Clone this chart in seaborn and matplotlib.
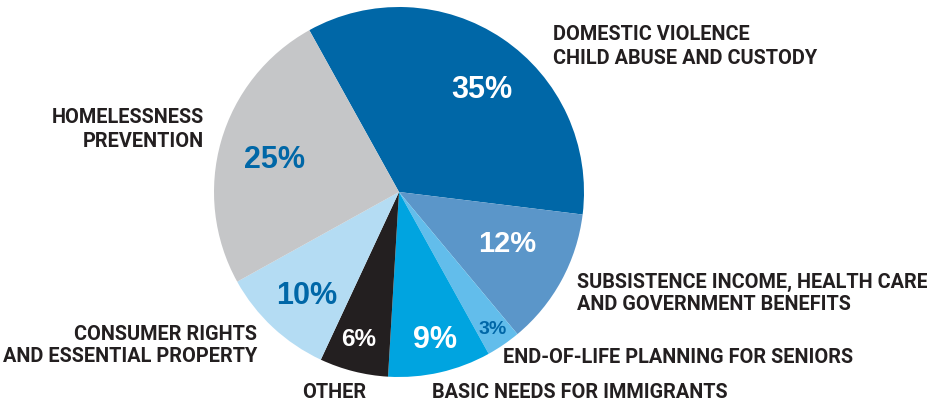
import matplotlib
matplotlib.use("Agg")
import matplotlib.pyplot as plt
import seaborn as sns
import numpy as np
from matplotlib import font_manager

# ---------------- data ----------------
categories = [
    "DOMESTIC VIOLENCE\nCHILD ABUSE AND CUSTODY",
    "SUBSISTENCE INCOME, HEALTH CARE\nAND GOVERNMENT BENEFITS",
    "END-OF-LIFE PLANNING FOR SENIORS",
    "BASIC NEEDS FOR IMMIGRANTS",
    "OTHER",
    "CONSUMER RIGHTS\nAND ESSENTIAL PROPERTY",
    "HOMELESSNESS\nPREVENTION",
]
shares = [35, 12, 3, 9, 6, 10, 25]
pct_labels = ["35%", "12%", "3%", "9%", "6%", "10%", "25%"]

# ---------------- style / layout ----------------
sns.set_theme(style="white")

label_font = ["Roboto", "DejaVu Sans"]
label_size = 14.3
pct_font = ["Liberation Sans", "DejaVu Sans"]

colors = ["#0067A7", "#5B96C9", "#62BDEB", "#00A4E0", "#231F20", "#B4DCF3", "#C5C6C8"]
pct_colors = ["white", "white", "#0067A7", "white", "white", "#0067A7", "#0067A7"]
pct_sizes = [22, 21, 14, 22, 17.5, 22, 22]
# label centres in pixel coords (x, y from top)
pct_pos = [(482, 88), (507, 242), (493, 327), (435, 337), (359, 338), (307, 293), (275, 158)]
pct_cap = [21, 20, 15, 21, 16.5, 21, 21]

# outer labels: (x, baseline y from top of first line, ha)
outer_pos = [
    (553, 40, "left"),
    (577, 288, "left"),
    (503, 363, "left"),
    (432, 398, "left"),
    (334, 398, "center"),
    (257, 340, "right"),
    (204, 123, "right"),
]
line_gap = [24, 22, 0, 0, 0, 22, 24]
text_color = "#231F20"

W, H = 928, 401
fig = plt.figure(figsize=(W / 100, H / 100), dpi=100)
ax = fig.add_axes([0, 0, 1, 1])

cx, cy, R = 399, H - 192, 185
wedges, _ = ax.pie(
    shares,
    colors=colors,
    startangle=119,
    counterclock=False,
    center=(cx, cy),
    radius=R,
    wedgeprops=dict(linewidth=0),
)
ax.set_xlim(0, W)
ax.set_ylim(0, H)
ax.set_aspect("equal")
ax.axis("off")

for lab, col, size, (x, y), cap in zip(pct_labels, pct_colors, pct_sizes, pct_pos, pct_cap):
    ax.text(x, H - y - cap / 2, lab, ha="center", va="baseline", color=col,
            fontsize=size, fontweight="bold", family=pct_font)

for cat, (x, y, ha), gap in zip(categories, outer_pos, line_gap):
    for i, line in enumerate(cat.split("\n")):
        ax.text(x, H - (y + i * gap), line, ha=ha, va="baseline", color=text_color,
                fontsize=label_size, fontweight="bold", family=label_font)

fig.savefig("out.png", dpi=100, facecolor="white")
